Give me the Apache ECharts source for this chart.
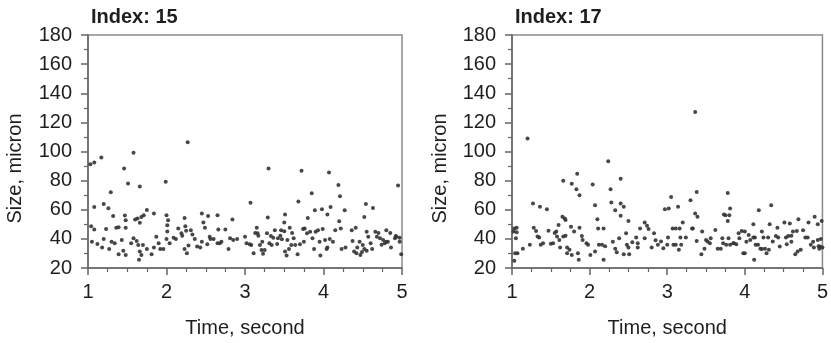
<!DOCTYPE html>
<html>
<head>
<meta charset="utf-8">
<script src="https://cdn.jsdelivr.net/npm/echarts@6/dist/echarts.min.js"></script>
<style>html,body{margin:0;padding:0;background:#fff}#c{width:831px;height:343px}</style>
</head>
<body>
<div id="c"></div>
<script>
var titles = ['Index: 15', 'Index: 17'];
var xName = 'Time, second';
var yName = 'Size, micron';

var leftTime = [1.03,1.08,1.17,1.58,2.27,1.08,1.04,1.08,1.12,1.2,1.23,1.18,1.2,1.26,1.29,1.32,1.27,1.34,1.36,1.39,1.39,1.43,1.46,1.47,1.48,1.51,1.48,1.45,1.48,1.6,1.63,1.66,1.66,1.68,1.71,1.75,1.58,1.62,1.64,1.66,1.65,1.68,1.7,1.75,1.81,1.84,1.84,1.87,1.92,1.96,1.99,2.0,2.01,2.01,2.02,2.0,2.04,2.09,2.15,2.19,2.2,2.23,2.24,2.25,2.23,2.26,2.28,2.31,2.36,2.39,2.43,2.45,2.47,2.49,2.52,2.53,2.55,2.56,2.6,2.65,2.65,2.68,2.66,2.75,2.79,2.81,2.84,2.85,3.0,3.06,3.07,3.08,3.11,3.15,3.16,3.17,3.19,3.21,3.23,3.25,3.28,3.29,3.3,3.31,3.34,3.36,3.38,3.41,3.42,3.45,3.47,3.5,3.5,3.51,3.51,3.53,3.54,3.56,3.57,3.59,3.62,3.64,3.67,3.68,3.7,3.72,3.74,3.76,3.79,3.8,3.83,3.85,3.86,3.88,3.89,3.9,3.93,3.96,3.98,3.99,4.02,4.04,4.05,4.07,4.08,4.09,4.15,4.19,4.21,4.2,4.22,4.23,4.27,4.36,4.37,4.39,4.41,4.42,4.46,4.47,4.5,4.52,4.54,4.55,4.55,4.57,4.6,4.63,4.66,4.68,4.72,4.76,4.78,4.8,4.82,4.86,4.91,4.93,4.95,4.97,4.99,1.05,1.3,1.55,1.9,2.12,2.33,2.45,2.7,2.9,3.02,3.13,3.22,3.33,3.46,3.6,3.75,3.95,4.12,4.28,4.43,4.62,4.7,4.85,4.97,4.92,4.8,4.74,4.52,4.49,4.05];
var leftSize = [91.3,92.4,95.8,99.2,106.4,61.9,48.7,46.5,36.5,39.9,46.7,34,64,61,72,55.7,33,37,47.6,48,29.5,39.2,88.3,56,52.8,78,47.6,31.8,29,53.3,54,76,51,55,56.2,59.8,40.4,38.6,35.8,31.3,25.7,29,35.8,33,29.5,57.4,34,41.5,33,33,79.3,56.2,49.4,45,52.8,39.9,37,40.8,47.1,43.8,42.2,54.4,48.7,45.6,33,30.2,35.4,46,39.9,34.7,34,57.4,51.2,47.6,36.3,55.7,41.5,39.9,39.9,56.2,37,37,46.5,46.5,33,40.4,53.3,39.2,41.5,36.3,64.8,35.8,30.2,47.6,43.8,42.2,35.8,32.4,29.7,32.4,43.8,54.6,88.3,37,35.8,40.8,46,36.5,40.4,42.2,39.7,51.2,45.3,56.7,31.3,28.6,39.2,33,47.6,35.8,40.4,35.8,29.5,65.7,36.3,86.7,46.7,47.1,43.8,54.4,44.9,71.4,40.4,33,59.6,44.9,46,28.6,60.3,46.7,39.2,33,56.7,85.6,39.9,61.9,46,77,69.3,52.1,47.1,33,59.6,46,38.6,31.3,47.6,30.2,38.1,29,35.8,55,64,44.9,31.8,41.5,37,61.2,44.9,41.5,40.4,39.2,37,46,38.1,34,40.4,41.5,76.6,40.8,29.5,38,38,37,37,40,43,38,38,40,37,44,38,42,46,44,38,38,38,34,34,33,44,44,38,42,38,36,33,31,34];

var rightTime = [1.2,1.03,1.06,1.02,1.06,1.05,1.04,1.07,1.03,1.14,1.23,1.27,1.28,1.31,1.33,1.35,1.36,1.37,1.45,1.47,1.5,1.53,1.57,1.58,1.6,1.61,1.62,1.65,1.66,1.68,1.69,1.66,1.69,1.71,1.71,1.74,1.76,1.77,1.77,1.8,1.83,1.84,1.87,1.85,1.86,1.87,1.91,1.96,1.98,2.01,2.04,2.07,2.07,2.1,2.11,2.12,2.16,2.18,2.18,2.24,2.27,2.28,2.33,2.33,2.35,2.38,2.4,2.4,2.4,2.44,2.44,2.47,2.48,2.5,2.5,2.51,2.55,2.6,2.62,2.65,2.71,2.71,2.74,2.76,2.8,2.83,2.88,2.92,2.95,2.97,3.01,3.02,3.05,3.07,3.08,3.11,3.11,3.14,3.15,3.16,3.17,3.2,3.24,3.3,3.32,3.33,3.36,3.36,3.38,3.39,3.38,3.44,3.45,3.48,3.5,3.52,3.56,3.62,3.65,3.69,3.71,3.72,3.73,3.75,3.76,3.78,3.78,3.79,3.8,3.81,3.81,3.86,3.89,3.92,3.93,3.96,3.98,4.0,4.0,4.05,4.07,4.11,4.11,4.12,4.13,4.14,4.17,4.18,4.2,4.22,4.24,4.26,4.28,4.3,4.31,4.34,4.32,4.36,4.42,4.43,4.45,4.51,4.53,4.54,4.58,4.6,4.62,4.65,4.67,4.68,4.69,4.72,4.78,4.81,4.82,4.85,4.89,4.9,4.94,4.94,4.96,4.97,4.99,5.0,1.4,1.55,1.9,2.2,2.3,2.62,2.85,3.0,3.18,3.55,3.85,4.02,4.22,4.4,4.56,4.75,4.88,4.98,4.95,4.6];
var rightSize = [109,47.2,47.7,45,44.5,40.4,30.2,30.2,25,33.2,35.9,64.3,47.7,45.4,41.6,40.9,62,35.9,60.4,45.6,36.6,37,45,41.6,49.5,39.3,34,55.2,80,54,53,41.6,42.2,34,30.2,32.5,48.4,77.9,29,45,74,84.7,70,30.2,25.6,47.7,39.3,37,35.9,29,77.4,63.1,31.3,53.4,47.2,35.9,35.9,47.2,25.6,93.3,74,65,59.7,33.2,30.9,40.4,81.3,64.3,55.9,62,29.5,43.8,35.9,52.2,34,29.5,37.7,40.9,34,47.2,40.4,51.3,49,46.8,34,43.8,35.9,38.2,33.6,60.4,40.9,60.9,68.8,47.2,35.9,35.9,47.2,62,32.5,47.2,40.9,51.3,40.9,66.5,47.2,47.2,127.1,57.4,72.2,55.2,38.6,29.5,45,33.2,39.3,38.2,40.4,46.1,33.2,33.2,40.4,37,56.8,56.3,35.9,71.5,52.2,40.4,56.3,60.9,35.9,37,36.3,43.8,40.4,45.4,30.2,30.2,45,42.7,39.3,50,40.9,25.6,40.9,35.9,35.9,59.7,33.2,45,40.9,33.2,30.2,40.9,32.5,63.1,50,38.2,47.7,40.9,34.8,51.3,40.9,36.3,50.6,42.2,45,29.5,45.4,31.3,53.4,32.5,40.9,40.9,51.3,35.9,34,55.2,39.3,50,33.2,34.8,52.2,34,37,44,42,35,38,37,39,36,36,37,37,38,33,42,42,46,38,40,35,38];

function pairs(xs, ys) { return xs.map(function (x, i) { return [x, ys[i]]; }); }

var font = 'Liberation Sans, Arial, Helvetica, sans-serif';
var textColor = '#1e1e1e';
var axisColor = '#666';

function xAxisFor(gi) {
  return {
    type: 'value', gridIndex: gi, min: 1, max: 5, interval: 1,
    name: xName, nameLocation: 'middle', nameGap: 50,
    nameTextStyle: { fontSize: 20, color: textColor, fontFamily: font },
    axisLine: { show: true, lineStyle: { color: axisColor, width: 1.5 } },
    axisTick: { show: true, inside: false, length: 7, lineStyle: { color: axisColor, width: 1.5 } },
    minorTick: { show: true, splitNumber: 4, length: 4, lineStyle: { color: axisColor, width: 1.2 } },
    axisLabel: { fontSize: 20, color: textColor, fontFamily: font, margin: 14 },
    splitLine: { show: false }
  };
}
function yAxisFor(gi, gap) {
  return {
    type: 'value', gridIndex: gi, min: 20, max: 180, interval: 20,
    name: yName, nameLocation: 'middle', nameGap: gap,
    nameTextStyle: { fontSize: 20, color: textColor, fontFamily: font, padding: [0, 34, 0, 0] },
    axisLine: { show: true, lineStyle: { color: axisColor, width: 1.5 } },
    axisTick: { show: true, inside: false, length: 7, lineStyle: { color: axisColor, width: 1.5 } },
    minorTick: { show: true, splitNumber: 2, length: 4, lineStyle: { color: axisColor, width: 1.2 } },
    axisLabel: { fontSize: 20, color: textColor, fontFamily: font, margin: 16 },
    splitLine: { show: false }
  };
}

var chart = echarts.init(document.getElementById('c'), null, { renderer: 'canvas' });
chart.setOption({
  backgroundColor: '#fff',
  animation: false,
  title: [
    { text: titles[0], left: 86, top: 2, textStyle: { fontSize: 20, fontWeight: 'bold', color: textColor, fontFamily: font } },
    { text: titles[1], left: 510, top: 2, textStyle: { fontSize: 20, fontWeight: 'bold', color: textColor, fontFamily: font } }
  ],
  grid: [
    { left: 88, right: 429, top: 35, bottom: 73, show: true, borderColor: '#8a8a8a', borderWidth: 1.5 },
    { left: 512, right: 4, top: 35, bottom: 73, show: true, borderColor: '#8a8a8a', borderWidth: 1.5 }
  ],
  xAxis: [xAxisFor(0), xAxisFor(1)],
  yAxis: [yAxisFor(0, 63), yAxisFor(1, 62)],
  series: [
    { type: 'scatter', xAxisIndex: 0, yAxisIndex: 0, data: pairs(leftTime, leftSize), symbol: 'circle', symbolSize: 4, itemStyle: { color: '#333', opacity: 0.9 } },
    { type: 'scatter', xAxisIndex: 1, yAxisIndex: 1, data: pairs(rightTime, rightSize), symbol: 'circle', symbolSize: 4, itemStyle: { color: '#333', opacity: 0.9 } }
  ]
});
</script>
</body>
</html>
